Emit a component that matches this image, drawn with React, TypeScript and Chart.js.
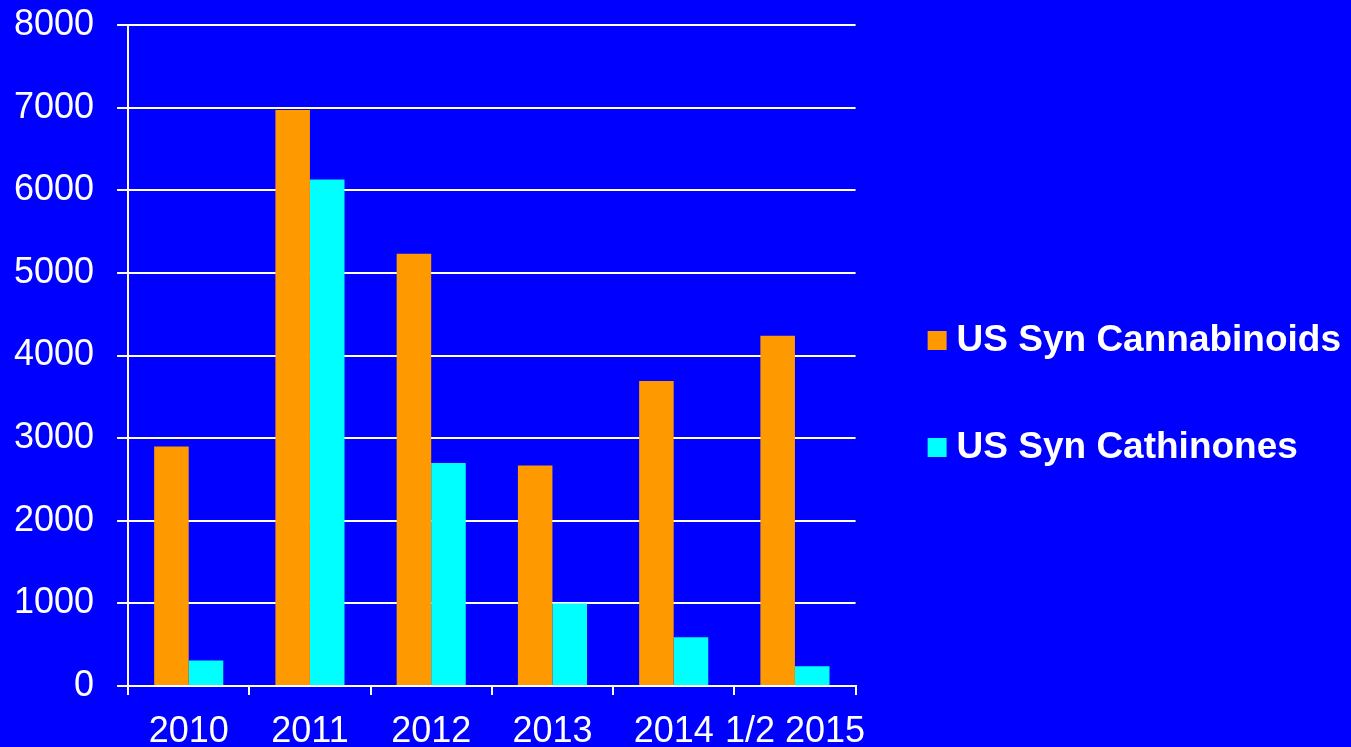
import React, { useEffect, useRef } from 'react';
import { Chart, registerables } from 'chart.js';

Chart.register(...registerables);

const categories = ['2010', '2011', '2012', '2013', '2014', '1/2 2015'];
const seriesNames = ['US Syn Cannabinoids', 'US Syn Cathinones'];
const cannabinoids = [2900, 6970, 5230, 2670, 3690, 4240];
const cathinones = [310, 6130, 2700, 1000, 590, 240];
const yMin = 0;
const yMax = 8000;
const yStep = 1000;

const FONT = "'Liberation Sans', Arial, Helvetica, sans-serif";
const BG = '#0000FF';
const ORANGE = '#FF9900';
const CYAN = '#00FFFF';
const WHITE = '#FFFFFF';

const bgPlugin = {
  id: 'bgFill',
  beforeDraw(chart: any) {
    const ctx = chart.ctx;
    ctx.save();
    ctx.fillStyle = BG;
    ctx.fillRect(0, 0, chart.width, chart.height);
    ctx.restore();
  },
};

// legend swatch: a square drawn in the right part of a wider transparent canvas
function makeSwatch(color: string) {
  const c = document.createElement('canvas');
  c.width = 40;
  c.height = 19;
  const g = c.getContext('2d');
  if (g) {
    g.fillStyle = color;
    g.fillRect(19, 0, 19, 19);
  }
  return c;
}

export default function App() {
  const ref = useRef<HTMLCanvasElement | null>(null);

  useEffect(() => {
    document.body.style.margin = '0';
    document.body.style.background = BG;
    const canvas = ref.current;
    if (!canvas) return;
    const colors = [ORANGE, CYAN];
    const swatches = colors.map(makeSwatch);
    const chart = new Chart(canvas, {
      type: 'bar',
      data: {
        labels: categories,
        datasets: [
          { label: seriesNames[0], data: cannabinoids, backgroundColor: ORANGE, borderWidth: 0 },
          { label: seriesNames[1], data: cathinones, backgroundColor: CYAN, borderWidth: 0 },
        ],
      },
      options: {
        responsive: false,
        animation: false,
        layout: { padding: { left: -9, top: 25, right: 0, bottom: -23 } },
        datasets: {
          bar: { categoryPercentage: 0.57, barPercentage: 1.0 },
        },
        scales: {
          x: {
            offset: true,
            grid: {
              display: true,
              offset: true,
              drawOnChartArea: false,
              drawTicks: true,
              tickLength: 9,
              color: WHITE,
              lineWidth: 2,
            },
            border: { display: true, color: WHITE, width: 2 },
            ticks: {
              color: WHITE,
              padding: 10,
              maxRotation: 0,
              autoSkip: false,
              font: { family: FONT, size: 36, lineHeight: '55px' },
            },
          },
          y: {
            min: yMin,
            max: yMax,
            grid: {
              color: WHITE,
              lineWidth: 2,
              drawTicks: true,
              tickLength: 11,
            },
            border: { display: true, color: WHITE, width: 2 },
            ticks: {
              stepSize: yStep,
              color: WHITE,
              padding: 23,
              callback: (v: any) => String(v),
              font: { family: FONT, size: 36, lineHeight: '3px' },
            },
          },
        },
        plugins: {
          tooltip: { enabled: false },
          legend: {
            display: true,
            position: 'right',
            align: 'center',
            maxWidth: 700,
            labels: {
              color: WHITE,
              boxWidth: 19,
              boxHeight: 19,
              usePointStyle: true,
              padding: 63.5,
              font: { family: FONT, size: 37, weight: 'bold', lineHeight: '43.5px' },
              generateLabels: (c: any) => {
                const items = (Chart as any).defaults.plugins.legend.labels.generateLabels(c);
                return items.map((it: any, i: number) => ({
                  ...it,
                  text: [it.text],
                  lineWidth: 0,
                  strokeStyle: 'rgba(0,0,0,0)',
                  pointStyle: swatches[i % swatches.length],
                  rotation: 0,
                }));
              },
            },
          },
        },
      } as any,
      plugins: [bgPlugin],
    });
    return () => chart.destroy();
  }, []);

  return (
    <div style={{ position: 'fixed', left: 0, top: 0, width: 1351, height: 747, background: BG }}>
      <canvas ref={ref} width={1351} height={747} style={{ display: 'block' }} />
    </div>
  );
}
